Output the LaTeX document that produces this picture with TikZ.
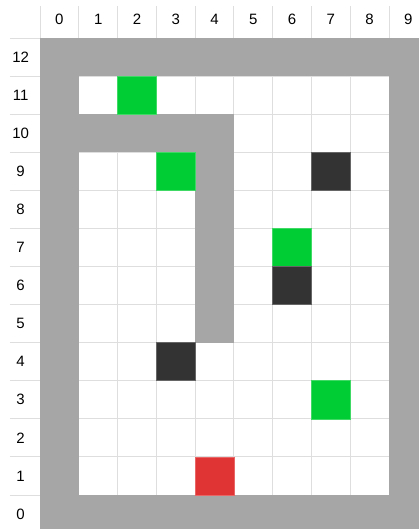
\documentclass[tikz,border=0pt]{standalone}
\usepackage{fontspec}
\setmainfont{Liberation Sans}
\usepackage{xcolor}
\usepackage{tikz}

\definecolor{gridgray}{HTML}{DEDEDE}
\definecolor{wallgray}{HTML}{A6A6A6}
\definecolor{goalgreen}{HTML}{00CC33}
\definecolor{blockdark}{HTML}{333333}
\definecolor{startred}{HTML}{E03333}

\begin{document}
\begin{tikzpicture}[
    x=38.78pt, y=38.08pt,
    gridline/.style={draw=gridgray, line width=0.9pt},
    wall/.style={fill=wallgray},
    goal/.style={fill=goalgreen, draw=goalgreen!75!white, line width=0.6pt},
    block/.style={fill=blockdark, draw=blockdark!75!white, line width=0.6pt},
    start/.style={fill=startred, draw=startred!75!white, line width=0.6pt},
    axislabel/.style={font=\fontsize{15}{17}\selectfont, inner sep=0pt}
]

\useasboundingbox (-40pt,4.08pt) rectangle (379pt,533.08pt);
\clip (-40pt,4.08pt) rectangle (379pt,533.08pt);

% grid
\foreach \c in {0,...,10}
    \draw[gridline] (\c,0) -- (\c,13.84);
\foreach \r in {0,...,13}
    \draw[gridline] (-0.774,\r) -- (10,\r);

% walls
\fill[wall] (0,0) rectangle (1,13);
\fill[wall] (9,0) rectangle (10,13);
\fill[wall] (0,12) rectangle (10,13);
\fill[wall] (0,0) rectangle (10,1);
\fill[wall] (0,10) rectangle (5,11);
\fill[wall] (4,5) rectangle (5,11);

% goals, blocks, start
\foreach \c/\r in {2/11, 3/9, 6/7, 7/3}
    \filldraw[goal] (\c,\r) rectangle ++(1,1);
\foreach \c/\r in {7/9, 6/6, 3/4}
    \filldraw[block] (\c,\r) rectangle ++(1,1);
\filldraw[start] (4,1) rectangle ++(1,1);

% axis labels
\foreach \c in {0,...,9}
    \node[axislabel] (col\c) at (\c+0.5,13.5) {\c};
\foreach \r in {0,...,12}
    \node[axislabel] (row\r) at (-0.5,\r+0.5) {\r};

\end{tikzpicture}
\end{document}
